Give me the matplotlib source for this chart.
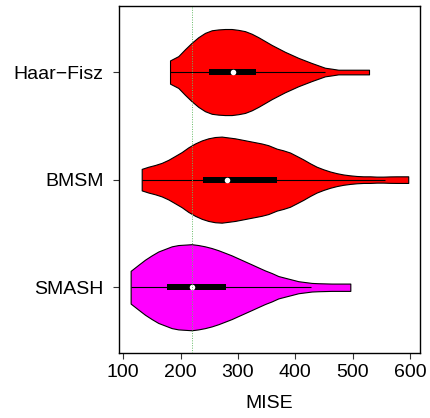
import matplotlib
matplotlib.use("Agg")
import matplotlib.pyplot as plt
import numpy as np

plt.rcParams['font.family'] = ['Liberation Sans', 'DejaVu Sans']

# method names, bottom to top
methods = ['SMASH', 'BMSM', 'Haar\u2212Fisz']
fill_colors = ['#ff00ff', '#ff0000', '#ff0000']

# violin outlines: MISE grid and relative density (max = 1)
smash_mise = [112.8, 126.2, 137.9, 149.5, 161.0, 172.7, 184.4, 196.0, 207.6, 219.3,
              230.8, 242.5, 254.2, 265.7, 277.4, 289.0, 300.6, 312.3, 324.0, 335.5,
              347.2, 358.8, 370.4, 382.0, 393.7, 405.3, 417.0, 428.6, 440.2, 463.5, 496.0]
smash_dens = [0.38, 0.52, 0.64, 0.74, 0.83, 0.89, 0.95, 0.98, 0.99, 1.00,
              0.98, 0.95, 0.91, 0.86, 0.80, 0.74, 0.67, 0.60, 0.53, 0.46,
              0.39, 0.33, 0.26, 0.22, 0.18, 0.14, 0.12, 0.10, 0.093, 0.085, 0.085]

bmsm_mise = [132.1, 143.7, 155.3, 167.0, 178.5, 190.2, 201.8, 213.4, 225.1, 236.7,
             248.3, 260.0, 271.6, 283.2, 294.8, 306.5, 318.0, 329.7, 341.3, 352.9,
             367.6, 379.2, 390.8, 402.5, 414.0, 425.7, 437.3, 449.0, 460.5, 472.2,
             483.8, 495.4, 507.0, 518.6, 530.3, 541.9, 553.5, 565.0, 576.8, 597.0]
bmsm_dens = [0.25, 0.30, 0.34, 0.39, 0.46, 0.55, 0.64, 0.75, 0.84, 0.91,
             0.96, 0.99, 1.00, 0.98, 0.96, 0.93, 0.90, 0.87, 0.84, 0.80,
             0.72, 0.68, 0.63, 0.55, 0.47, 0.38, 0.30, 0.24, 0.19, 0.15,
             0.12, 0.10, 0.085, 0.077, 0.077, 0.07, 0.07, 0.075, 0.077, 0.077]

haar_mise = [181.5, 196.0, 207.6, 219.3, 230.9, 242.5, 254.2, 265.8, 277.4, 289.0,
             300.6, 312.3, 323.9, 335.5, 347.2, 358.8, 370.4, 382.0, 393.7, 405.3,
             416.9, 428.6, 440.2, 451.8, 463.5, 475.0, 498.4, 528.6]
haar_dens = [0.27, 0.37, 0.53, 0.68, 0.81, 0.91, 0.97, 0.99, 1.00, 1.00,
             0.98, 0.95, 0.89, 0.81, 0.72, 0.63, 0.55, 0.47, 0.40, 0.33,
             0.27, 0.21, 0.155, 0.10, 0.078, 0.054, 0.054, 0.054]

# box summaries: lower whisker, q1, median, q3, upper whisker
lower_whisker = [112.8, 132.1, 181.5]
q1 = [176.7, 239.5, 249.5]
medians = [219.3, 281.4, 290.8]
q3 = [279.0, 367.5, 331.4]
upper_whisker = [428.0, 556.0, 452.0]

reference_line = 219.3

outlines = [(smash_mise, smash_dens), (bmsm_mise, bmsm_dens), (haar_mise, haar_dens)]

fig = plt.figure(figsize=(4.3, 4.18), dpi=100)
ax = fig.add_axes([0.2774, 0.1548, 0.6993, 0.8309])

half_width = 0.4
box_half = 0.028
for i, (xs, ds) in enumerate(outlines):
    pos = i + 1
    xs = np.array(xs)
    w = np.array(ds) * half_width
    ax.fill_between(xs, pos - w, pos + w, facecolor=fill_colors[i],
                    edgecolor='black', linewidth=0.8, zorder=2)
    ax.hlines(pos, lower_whisker[i], upper_whisker[i], color='black',
              linewidth=0.8, zorder=3)
    ax.fill_between([q1[i], q3[i]], pos - box_half, pos + box_half,
                    facecolor='black', edgecolor='none', zorder=4)
    ax.plot(medians[i], pos, 'o', color='white', markersize=4,
            markeredgewidth=0, zorder=5)

ax.axvline(reference_line, color='#66bb66', linestyle=(0, (1, 1.5)),
           linewidth=0.7, zorder=6)

ax.set_xlim(93, 617.5)
ax.set_ylim(0.386, 3.614)
ax.set_xticks([100, 200, 300, 400, 500, 600])
ax.set_yticks([1, 2, 3])
ax.set_yticklabels(methods)
ax.tick_params(axis='both', labelsize=14, length=4.3, width=0.8, color='#333333')
ax.tick_params(axis='x', pad=3.5)
ax.tick_params(axis='y', pad=7)
ax.set_xlabel('MISE', fontsize=14, labelpad=10)
for s in ax.spines.values():
    s.set_linewidth(1.0)

fig.savefig('out.png', dpi=100)
